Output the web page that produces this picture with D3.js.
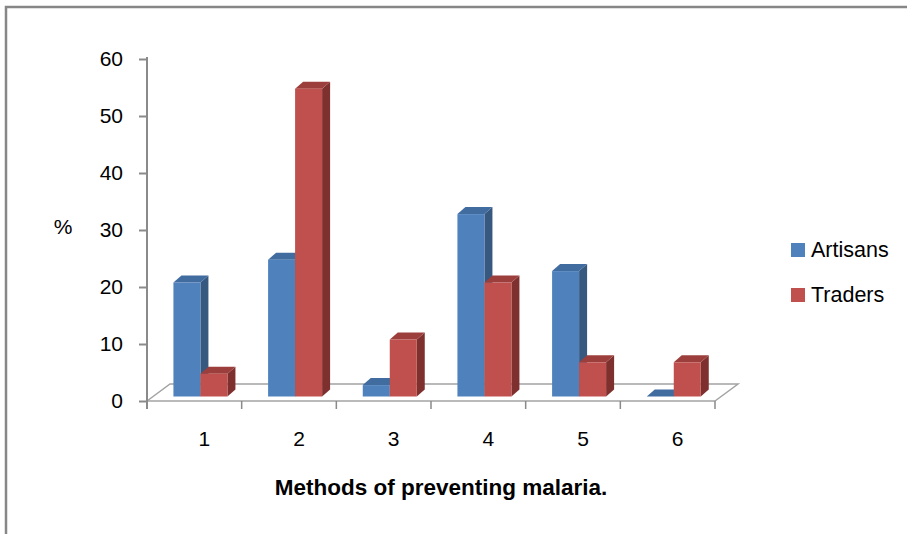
<!DOCTYPE html>
<html>
<head>
<meta charset="utf-8">
<script src="https://cdn.jsdelivr.net/npm/d3@7"></script>
<style>
  html, body { margin: 0; padding: 0; background: #fff; }
  svg { display: block; font-family: "Liberation Sans", Arial, sans-serif; }
</style>
</head>
<body>
<svg id="chart" width="907" height="534"></svg>
<script>
// Methods of preventing malaria: share (%) of respondents by group
const categories = ["1", "2", "3", "4", "5", "6"];
const artisans = [20, 24, 2, 32, 22, 0];
const traders = [4, 54, 10, 20, 6, 6];
const seriesNames = ["Artisans", "Traders"];
const yTicks = [0, 10, 20, 30, 40, 50, 60];

const colors = {
  Artisans: { front: "#4F81BD", side: "#37587F", top: "#416C9F" },
  Traders:  { front: "#C0504D", side: "#7E302E", top: "#9C3F3C" }
};

const svg = d3.select("#chart");

// outer frame (top and left edges)
svg.append("path")
  .attr("d", "M6,534 L6,7 L907,7")
  .attr("fill", "none").attr("stroke", "#878787").attr("stroke-width", 2.5);

const x = d3.scaleBand().domain(categories).range([147, 715]);
const y = d3.scaleLinear().domain([0, 60]).range([401, 59]);

// floor depth and bar placement inside the floor
const floorDX = 23, floorDY = -17;
const depthFrac = 0.265;
const shiftX = floorDX * depthFrac, shiftY = floorDY * depthFrac;
const barW = 27;
const barDX = 8, barDY = -7;

const axisColor = "#8A8A8A";
const floorColor = "#A3A3A3";

// floor
const x0 = x.range()[0], x1 = x.range()[1], yf = y(0);
svg.append("path")
  .attr("d", `M${x0},${yf} L${x0 + floorDX},${yf + floorDY} L${x1 + floorDX},${yf + floorDY} L${x1},${yf}`)
  .attr("fill", "none").attr("stroke", floorColor).attr("stroke-width", 1.5);

// bars
const barsG = svg.append("g");
categories.forEach((c, i) => {
  const vals = [artisans[i], traders[i]];
  const center = x(c) + x.bandwidth() / 2 + shiftX;
  vals.forEach((v, s) => {
    const col = colors[seriesNames[s]];
    const bx = center - barW + s * barW;
    const base = y(0) + shiftY;
    const top = y(v) + shiftY;
    const g = barsG.append("g");
    g.append("path")
      .attr("d", `M${bx + barW},${top} L${bx + barW + barDX},${top + barDY} L${bx + barW + barDX},${base + barDY} L${bx + barW},${base}Z`)
      .attr("fill", col.side);
    g.append("path")
      .attr("d", `M${bx},${top} L${bx + barDX},${top + barDY} L${bx + barW + barDX},${top + barDY} L${bx + barW},${top}Z`)
      .attr("fill", col.top);
    if (v > 0) {
      g.append("rect")
        .attr("x", bx).attr("y", top)
        .attr("width", barW).attr("height", base - top)
        .attr("fill", col.front);
    }
  });
});

// front floor edge with category ticks
const xAxis = d3.axisBottom(x).tickSize(0).tickFormat("");
const xg = svg.append("g").attr("transform", `translate(0,${yf})`).call(xAxis);
xg.select(".domain").attr("stroke", floorColor).attr("stroke-width", 1.5).attr("d", `M${x0},0H${x1}`);
const boundaries = categories.map(c => x(c)).concat([x1]);
svg.append("g").selectAll("line").data(boundaries).join("line")
  .attr("x1", d => d).attr("x2", d => d)
  .attr("y1", yf).attr("y2", yf + 8)
  .attr("stroke", axisColor).attr("stroke-width", 1.5);

// category labels
svg.append("g").selectAll("text").data(categories).join("text")
  .attr("x", d => x(d) + x.bandwidth() / 2 + 10)
  .attr("y", 446)
  .attr("text-anchor", "middle")
  .attr("font-size", 21)
  .attr("fill", "#000")
  .text(d => d);

// value axis
const yAxis = d3.axisLeft(y).tickValues(yTicks).tickSize(8).tickPadding(16);
const yg = svg.append("g").attr("transform", `translate(${x0},0)`).call(yAxis);
yg.select(".domain").attr("d", `M0,${y(60) - 2}V${yf + 8}`).attr("stroke", axisColor).attr("stroke-width", 2);
yg.selectAll(".tick line").attr("stroke", axisColor).attr("stroke-width", 2);
yg.selectAll(".tick text").attr("font-size", 21).attr("fill", "#000")
  .attr("font-family", "Liberation Sans, Arial, sans-serif");

// axis titles
svg.append("text")
  .attr("x", 63).attr("y", 227).attr("dy", "0.35em")
  .attr("text-anchor", "middle").attr("font-size", 21).attr("fill", "#000")
  .text("%");

svg.append("text")
  .attr("x", 441).attr("y", 495)
  .attr("text-anchor", "middle").attr("font-size", 22.5).attr("font-weight", "bold").attr("fill", "#000")
  .text("Methods of preventing malaria.");

// legend
const legend = svg.append("g").selectAll("g").data(seriesNames).join("g")
  .attr("transform", (d, i) => `translate(791,${243 + i * 45})`);
legend.append("rect").attr("width", 14).attr("height", 14).attr("fill", d => colors[d].front);
legend.append("text").attr("x", 20).attr("y", 14)
  .attr("font-size", 21.5).attr("fill", "#000").text(d => d);
</script>
</body>
</html>
